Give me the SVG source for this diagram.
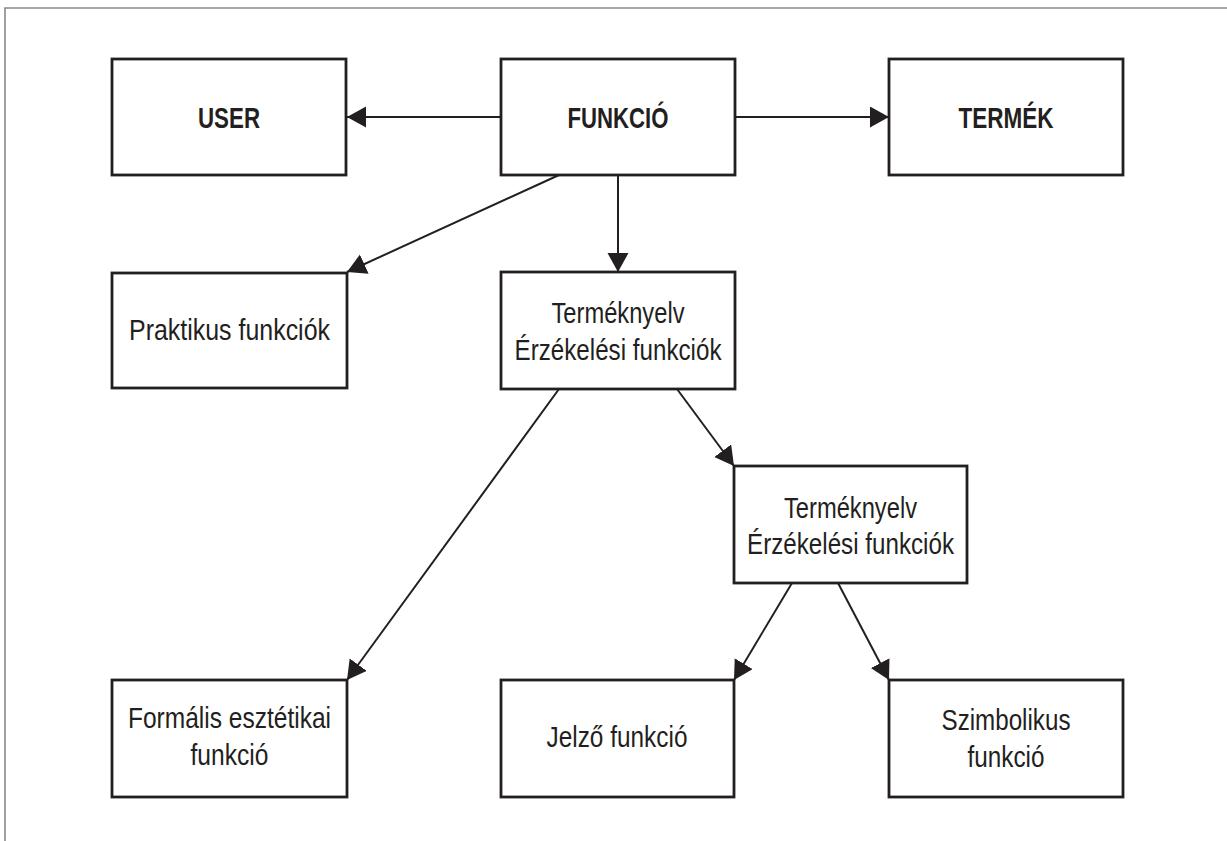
<svg xmlns="http://www.w3.org/2000/svg" width="1227" height="841" viewBox="0 0 1227 841">
  <style>
    .box { fill: #ffffff; stroke: #231f20; stroke-width: 2.8; }
    .frame { fill: none; stroke: #8a8a8a; stroke-width: 1.6; }
    .link { fill: none; stroke: #231f20; stroke-width: 2; marker-end: url(#arrow); }
    .lbl { font-family: "Liberation Sans Narrow", "Liberation Sans", Arial, sans-serif; font-size: 30px; fill: #231f20; text-anchor: middle; }
    .bold { font-weight: bold; }
  </style>
  <defs>
    <marker id="arrow" markerUnits="userSpaceOnUse" markerWidth="20" markerHeight="22" refX="19" refY="10.5" orient="auto">
      <path d="M0,0 L19,10.5 L0,21 z" fill="#231f20"/>
    </marker>
  </defs>

  <rect width="1227" height="841" fill="#ffffff"/>
  <!-- page frame -->
  <path class="frame" d="M5,841 L5,8 L1227,8"/>

  <!-- connectors -->
  <g id="connectors">
    <line class="link" x1="501" y1="117" x2="347" y2="117"/>
    <line class="link" x1="735" y1="117" x2="889" y2="117"/>
    <line class="link" x1="559" y1="175" x2="347" y2="272"/>
    <line class="link" x1="618" y1="175" x2="618" y2="272"/>
    <line class="link" x1="559" y1="389" x2="347" y2="680"/>
    <line class="link" x1="677" y1="389" x2="734" y2="466"/>
    <line class="link" x1="792" y1="583" x2="734" y2="680"/>
    <line class="link" x1="838" y1="583" x2="889" y2="680"/>
  </g>

  <g id="user">
    <rect class="box" x="112" y="59" width="234" height="116"/>
    <text class="lbl bold" x="229" y="128" textLength="62" lengthAdjust="spacingAndGlyphs">USER</text>
  </g>
  <g id="funkcio">
    <rect class="box" x="501" y="59" width="234" height="116"/>
    <text class="lbl bold" x="618" y="128" textLength="101" lengthAdjust="spacingAndGlyphs">FUNKCIÓ</text>
  </g>
  <g id="termek">
    <rect class="box" x="889" y="59" width="234" height="116"/>
    <text class="lbl bold" x="1006" y="128" textLength="95" lengthAdjust="spacingAndGlyphs">TERMÉK</text>
  </g>
  <g id="praktikus">
    <rect class="box" x="112" y="273" width="235" height="115"/>
    <text class="lbl" x="229.5" y="340" textLength="201" lengthAdjust="spacingAndGlyphs">Praktikus funkciók</text>
  </g>
  <g id="termeknyelv-1">
    <rect class="box" x="501" y="272" width="234" height="117"/>
    <text class="lbl" x="618" y="323" textLength="133" lengthAdjust="spacingAndGlyphs">Terméknyelv</text>
    <text class="lbl" x="618" y="360" textLength="207" lengthAdjust="spacingAndGlyphs">Érzékelési funkciók</text>
  </g>
  <g id="termeknyelv-2">
    <rect class="box" x="734" y="466" width="233" height="117"/>
    <text class="lbl" x="850.5" y="518" textLength="133" lengthAdjust="spacingAndGlyphs">Terméknyelv</text>
    <text class="lbl" x="850.5" y="554" textLength="207" lengthAdjust="spacingAndGlyphs">Érzékelési funkciók</text>
  </g>
  <g id="formalis">
    <rect class="box" x="112" y="680" width="235" height="117"/>
    <text class="lbl" x="229.5" y="728" textLength="203" lengthAdjust="spacingAndGlyphs">Formális esztétikai</text>
    <text class="lbl" x="229.5" y="765" textLength="78" lengthAdjust="spacingAndGlyphs">funkció</text>
  </g>
  <g id="jelzo">
    <rect class="box" x="501" y="680" width="233" height="117"/>
    <text class="lbl" x="617" y="747" textLength="141" lengthAdjust="spacingAndGlyphs">Jelző funkció</text>
  </g>
  <g id="szimbolikus">
    <rect class="box" x="889" y="680" width="234" height="117"/>
    <text class="lbl" x="1006" y="730" textLength="129" lengthAdjust="spacingAndGlyphs">Szimbolikus</text>
    <text class="lbl" x="1006" y="767" textLength="77" lengthAdjust="spacingAndGlyphs">funkció</text>
  </g>
</svg>
